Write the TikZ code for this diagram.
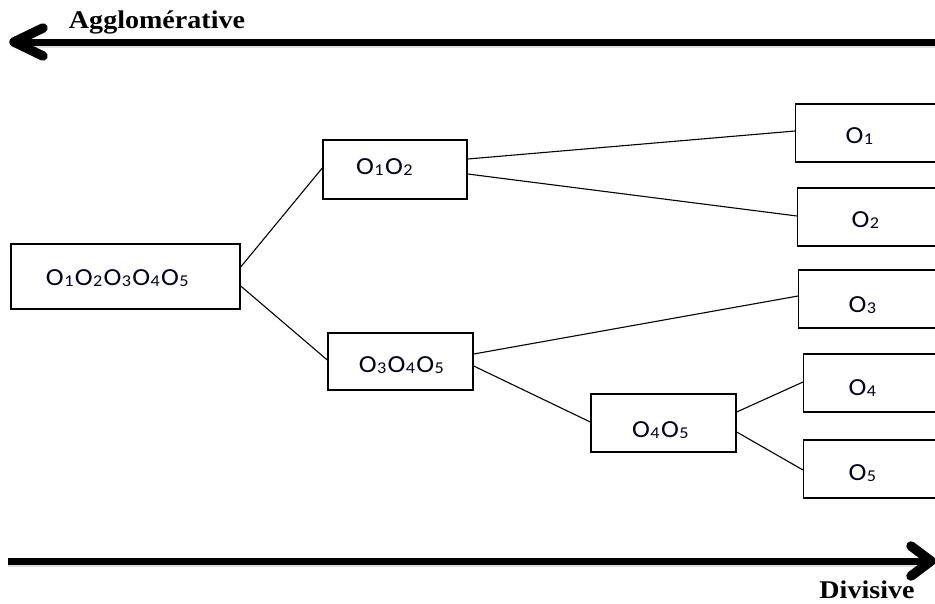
\documentclass[tikz,border=0pt]{standalone}
\usepackage{fontspec}
\setmainfont{Liberation Serif}
\newfontfamily\boxfont{Carlito}
\newfontfamily\headfont{Liberation Serif}
\usetikzlibrary{calc}

% subscript-like index digit used in the cluster labels
\newcommand{\idx}[1]{\kern0.4pt\raisebox{-1.6pt}{\fontsize{16.5}{16.5}\selectfont #1}\kern1.2pt}
\newcommand{\obj}[1]{O\idx{#1}}

\tikzset{
  clusterbox/.style={draw=black, line width=1.4pt, fill=white, inner sep=0pt},
  boxlabel/.style={anchor=base, inner sep=0pt, text=black!88!blue,
    font=\boxfont\fontsize{24.5}{24.5}\selectfont},
  link/.style={draw=black, line width=1.1pt},
  axis/.style={line width=7pt, line cap=butt},
  axishead/.style={line width=9.5pt, line cap=round, line join=round},
  axisshadow/.style={line width=8pt, draw=black, opacity=0.12},
  axislabel/.style={anchor=base, inner sep=0pt,
    font=\headfont\bfseries\fontsize{25.5}{25.5}\selectfont}
}

\begin{document}
\begin{tikzpicture}[x=1pt, y=-1pt]
\useasboundingbox (0,0) rectangle (935,603);
\clip (0,0) rectangle (935,603);

% ---- direction arrows -------------------------------------------------
\coordinate (aggR) at (945,42);
\coordinate (aggL) at (16,42);
\coordinate (divL) at (8,561);
\coordinate (divR) at (929,561);

\draw[axisshadow] ([yshift=-1.5pt]aggL) -- ([yshift=-1.5pt]aggR);
\draw[axisshadow] ([yshift=-1.5pt]divL) -- ([yshift=-1.5pt]divR);

\draw[axis] (aggR) -- (aggL);
\draw[axishead] (43,28) -- (14,42) -- (43,56);
\node[axislabel] (agg) at (157,28) {\scalebox{1.1}[1]{Agglomérative}};

\draw[axis] (divL) -- (divR);
\draw[axishead] (911,546) -- (931,561) -- (911,576);
\node[axislabel] (div) at (867,598) {\scalebox{1.1}[1]{Divisive}};

% ---- cluster boxes ----------------------------------------------------
\node[clusterbox, minimum width=229pt, minimum height=65pt] (root) at (125.5,276.5) {};
\node[clusterbox, minimum width=144pt, minimum height=59pt] (b12)  at (395,169.5) {};
\node[clusterbox, minimum width=145pt, minimum height=57pt] (b345) at (400.5,361.5) {};
\node[clusterbox, minimum width=145pt, minimum height=58pt] (b45)  at (663.5,423) {};
\node[clusterbox, minimum width=160pt, minimum height=58pt, anchor=west] (o1) at (795,133) {};
\node[clusterbox, minimum width=160pt, minimum height=58pt, anchor=west] (o2) at (797,217) {};
\node[clusterbox, minimum width=160pt, minimum height=58pt, anchor=west] (o3) at (798,299) {};
\node[clusterbox, minimum width=160pt, minimum height=58pt, anchor=west] (o4) at (803,383) {};
\node[clusterbox, minimum width=160pt, minimum height=58pt, anchor=west] (o5) at (803,469) {};

% ---- labels -----------------------------------------------------------
\node[boxlabel] (troot) at (118,285) {\scalebox{1.1}[1]{\obj1\obj2\obj3\obj4\obj5}};
\node[boxlabel] (t12)   at (385,174) {\scalebox{1.1}[1]{\obj1\obj2}};
\node[boxlabel] (t345)  at (402,372) {\scalebox{1.1}[1]{\obj3\obj4\obj5}};
\node[boxlabel] (t45)   at (661,437) {\scalebox{1.1}[1]{\obj4\obj5}};
\node[boxlabel] (t1)    at (860,143) {\scalebox{1.1}[1]{\obj1}};
\node[boxlabel] (t2)    at (866,227) {\scalebox{1.1}[1]{\obj2}};
\node[boxlabel] (t3)    at (863,312) {\scalebox{1.1}[1]{\obj3}};
\node[boxlabel] (t4)    at (863,395) {\scalebox{1.1}[1]{\obj4}};
\node[boxlabel] (t5)    at (863,480) {\scalebox{1.1}[1]{\obj5}};

% ---- tree links -------------------------------------------------------
\draw[link] ([yshift=9.5pt]root.east)  -- ([yshift=1.5pt]b12.west);
\draw[link] ([yshift=-9.5pt]root.east) -- ([yshift=1.5pt]b345.west);
\draw[link] ([yshift=10.5pt]b12.east)  -- ([yshift=2pt]o1.west);
\draw[link] ([yshift=-4.5pt]b12.east)  -- ([yshift=1pt]o2.west);
\draw[link] ([yshift=7.5pt]b345.east)  -- ([yshift=3pt]o3.west);
\draw[link] ([yshift=-4.5pt]b345.east) -- ([yshift=1pt]b45.west);
\draw[link] ([yshift=11pt]b45.east)    -- ([yshift=1pt]o4.west);
\draw[link] ([yshift=-9pt]b45.east)    -- ([yshift=-1pt]o5.west);
\end{tikzpicture}
\end{document}
